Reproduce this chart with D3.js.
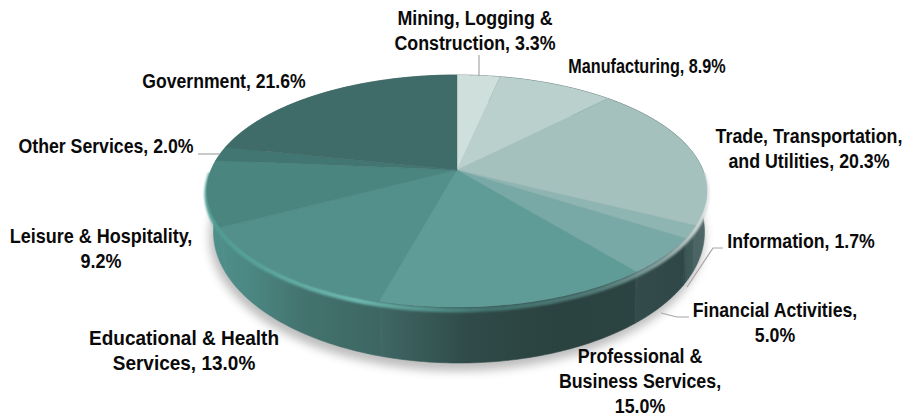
<!DOCTYPE html>
<html><head><meta charset="utf-8">
<script src="https://cdn.jsdelivr.net/npm/d3@7"></script>
<style>html,body{margin:0;padding:0;background:#fff}svg{display:block}
text{font-family:"Liberation Sans",Arial,sans-serif;font-weight:700;font-size:20px;fill:#0a0a0a}</style>
</head><body><svg id="c" width="905" height="420"></svg>
<script>
const categories=["Mining, Logging & Construction","Manufacturing","Trade, Transportation, and Utilities","Information","Financial Activities","Professional & Business Services","Educational & Health Services","Leisure & Hospitality","Other Services","Government"];
const shares=[3.3,8.9,20.3,1.7,5.0,15.0,13.0,9.2,2.0,21.6];
const topColors=["#cfdfdc","#b9d0cc","#a5c1be","#8fb5b2","#78a9a6","#5f9c97","#53908b","#4b8580","#427672","#3f6b68"];
const wallStops=[[207,"#4f918c"],[250,"#4c8783"],[300,"#44746f"],[379,"#3d6663"],[381,"#3f6764"],[470,"#2f4a48"],[560,"#2a4240"],[634,"#2b4442"],[636,"#334b4a"],[684,"#2f4847"],[686,"#3d5756"],[692,"#3f5a5a"],[694,"#4a6363"],[712,"#55696a"]];
const labelLines=[["Mining, Logging &","Construction, 3.3%"],["Manufacturing, 8.9%"],["Trade, Transportation,","and Utilities, 20.3%"],["Information, 1.7%"],["Financial Activities,","5.0%"],["Professional &","Business Services,","15.0%"],["Educational & Health","Services, 13.0%"],["Leisure & Hospitality,","9.2%"],["Other Services, 2.0%"],["Government, 21.6%"]];
const labelAnchor=[[475,25],[647,73],[809,143],[801,248],[775,317],[640,363],[184,345],[101,243],[106,153],[224,88]];
const labelSqueeze=[.89,.81,.89,.885,.885,.89,.95,.9,.885,.88];
const leaders=[[[479,55],[479,76]],null,null,[[723,248],[713,248],[687,287]],[[689,317],[677,317],[661,313]],null,null,null,[[198,154],[220,154]],null];

const svg=d3.select("#c"),defs=svg.append("defs");
const K=-0.18,S=Math.sqrt(1-K*K);
const topE={cx:457,cy:191,rx:250,ry:116},botE={cx:459,cy:232,rx:245.5,ry:131};
const proj=(e,a)=>{const u=Math.sin(a),v=-Math.cos(a),d=1+K*v;return [e.cx+e.rx*u*S/d,e.cy+e.ry*(v+K)/d];};
const apex=[topE.cx,topE.cy+topE.ry*K];
const arcPts=(e,a0,a1)=>d3.range(0,61).map(i=>proj(e,a0+(a1-a0)*i/60));
const line=d3.line();
const arcs=d3.pie().sort(null).value(d=>d)(shares);

const blur=(id,s)=>defs.append("filter").attr("id",id).attr("x","-20%").attr("y","-20%").attr("width","140%").attr("height","140%").append("feGaussianBlur").attr("stdDeviation",s);
blur("sh",5);blur("soft2",0.8);

// cast shadow
svg.append("ellipse").attr("cx",botE.cx-2).attr("cy",botE.cy+5).attr("rx",botE.rx+2).attr("ry",botE.ry+3).attr("fill","#9a9a9a").attr("opacity",.65).attr("filter","url(#sh)");

// side walls
const wg=defs.append("linearGradient").attr("id","wall").attr("gradientUnits","userSpaceOnUse").attr("x1",207).attr("x2",712).attr("y1",0).attr("y2",0);
wallStops.forEach(s=>wg.append("stop").attr("offset",(s[0]-207)/505).attr("stop-color",s[1]));
arcs.forEach(d=>{
  const pts=arcPts(topE,d.startAngle,d.endAngle).concat(arcPts(botE,d.startAngle,d.endAngle).reverse());
  svg.append("path").attr("d",line(pts)+"Z").attr("fill","url(#wall)").attr("stroke","url(#wall)").attr("stroke-width",.6);
});

// rim highlight
const rg=defs.append("linearGradient").attr("id","rim").attr("gradientUnits","userSpaceOnUse").attr("x1",207).attr("x2",707).attr("y1",0).attr("y2",0);
[[0,"#4f9a92",1],[.12,"#5aa49c",1],[.3,"#6db8af",1],[.4,"#5fa39c",.9],[.56,"#4f8f8a",.6],[.78,"#6b9f9b",.6],[.92,"#9ab5b3",.85],[1,"#dfe5e4",1]].forEach(s=>rg.append("stop").attr("offset",s[0]).attr("stop-color",s[1]).attr("stop-opacity",s[2]));
svg.append("path").attr("d",line(arcPts({...topE,cy:topE.cy+3},Math.PI*.5,Math.PI*1.5))).attr("fill","none").attr("stroke","url(#rim)").attr("stroke-width",5).attr("filter","url(#soft2)");

// top face
arcs.forEach((d,i)=>{
  const pts=[apex].concat(arcPts(topE,d.startAngle,d.endAngle));
  svg.append("path").attr("d",line(pts)+"Z").attr("fill",topColors[i]).attr("stroke",topColors[i]).attr("stroke-width",.4);
});

// leaders
leaders.forEach(l=>{if(l)svg.append("path").attr("d",line(l)).attr("fill","none").attr("stroke","#a6a6a6").attr("stroke-width",1.2);});

// labels
labelLines.forEach((ls,i)=>{
  const t=svg.append("text").attr("text-anchor","middle").attr("transform",`translate(${labelAnchor[i][0]},${labelAnchor[i][1]}) scale(${labelSqueeze[i]},1)`);
  ls.forEach((s,j)=>t.append("tspan").attr("x",0).attr("y",j*24.8).text(s));
});
</script></body></html>
